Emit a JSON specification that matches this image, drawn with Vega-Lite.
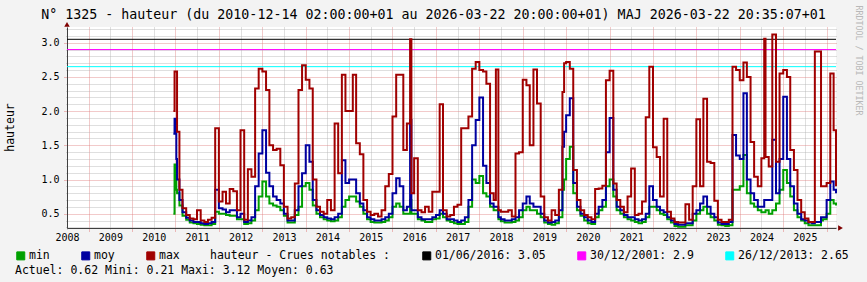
{
  "$schema": "https://vega.github.io/schema/vega-lite/v6.json",
  "width": 769,
  "height": 201,
  "autosize": {"type": "none"},
  "padding": {"left": 67, "top": 27, "right": 31, "bottom": 54},
  "background": "#f3f3f3",
  "config": {"view": {"fill": "#ffffff", "stroke": null}, "font": "DejaVu Sans Mono"},
  "title": {
    "text": "N° 1325 - hauteur (du 2010-12-14 02:00:00+01 au 2026-03-22 20:00:00+01) MAJ 2026-03-22 20:35:07+01",
    "font": "DejaVu Sans Mono", "fontSize": 13.3, "fontWeight": "normal", "color": "#000000",
    "anchor": "middle", "frame": "group", "dx": -18, "dy": 18, "offset": 2
  },
  "datasets": {
    "repere": [{"p": 1}],
    "crues": [
      {"crue": "01/06/2016: 3.05", "h": 3.05},
      {"crue": "30/12/2001: 2.9", "h": 2.9},
      {"crue": "26/12/2013: 2.65", "h": 2.65}
    ],
    "niveaux": [
      {"d":"2010-12-14","min":0.50,"moy":1.67,"max":2.00},
      {"d":"2010-12-24","min":1.22,"moy":1.89,"max":2.58},
      {"d":"2011-01-08","min":0.85,"moy":1.30,"max":2.58},
      {"d":"2011-01-14","min":0.80,"moy":1.00,"max":1.70},
      {"d":"2011-02-03","min":0.62,"moy":0.70,"max":0.85},
      {"d":"2011-03-01","min":0.47,"moy":0.52,"max":0.58},
      {"d":"2011-04-01","min":0.41,"moy":0.44,"max":0.48},
      {"d":"2011-05-01","min":0.37,"moy":0.40,"max":0.43},
      {"d":"2011-06-01","min":0.36,"moy":0.38,"max":0.42},
      {"d":"2011-07-01","min":0.35,"moy":0.38,"max":0.55},
      {"d":"2011-08-01","min":0.34,"moy":0.36,"max":0.40},
      {"d":"2011-09-01","min":0.33,"moy":0.35,"max":0.38},
      {"d":"2011-10-01","min":0.33,"moy":0.36,"max":0.41},
      {"d":"2011-11-01","min":0.35,"moy":0.38,"max":0.44},
      {"d":"2011-12-01","min":0.53,"moy":0.85,"max":1.75},
      {"d":"2012-01-01","min":0.50,"moy":0.58,"max":0.68},
      {"d":"2012-02-01","min":0.50,"moy":0.56,"max":0.82},
      {"d":"2012-03-01","min":0.48,"moy":0.52,"max":0.65},
      {"d":"2012-04-01","min":0.47,"moy":0.55,"max":0.86},
      {"d":"2012-05-01","min":0.47,"moy":0.55,"max":0.83},
      {"d":"2012-06-01","min":0.42,"moy":0.45,"max":0.55},
      {"d":"2012-07-01","min":0.42,"moy":0.50,"max":1.72},
      {"d":"2012-08-01","min":0.35,"moy":0.38,"max":0.41},
      {"d":"2012-09-01","min":0.36,"moy":0.40,"max":1.15},
      {"d":"2012-10-01","min":0.40,"moy":0.45,"max":1.04},
      {"d":"2012-11-01","min":0.55,"moy":0.90,"max":2.33},
      {"d":"2012-12-01","min":0.75,"moy":1.38,"max":2.62},
      {"d":"2013-01-01","min":0.97,"moy":1.72,"max":2.58},
      {"d":"2013-02-01","min":0.75,"moy":1.10,"max":2.31},
      {"d":"2013-03-01","min":0.65,"moy":0.90,"max":1.50},
      {"d":"2013-04-01","min":0.62,"moy":0.75,"max":1.43},
      {"d":"2013-05-01","min":0.60,"moy":0.70,"max":1.45},
      {"d":"2013-06-01","min":0.55,"moy":0.65,"max":1.21},
      {"d":"2013-07-01","min":0.47,"moy":0.50,"max":0.60},
      {"d":"2013-08-01","min":0.37,"moy":0.40,"max":0.43},
      {"d":"2013-09-01","min":0.37,"moy":0.40,"max":0.45},
      {"d":"2013-10-01","min":0.48,"moy":0.55,"max":0.94},
      {"d":"2013-11-01","min":0.60,"moy":0.90,"max":2.31},
      {"d":"2013-12-01","min":0.90,"moy":1.09,"max":2.67},
      {"d":"2014-01-01","min":0.95,"moy":1.50,"max":2.46},
      {"d":"2014-02-01","min":0.85,"moy":1.26,"max":2.33},
      {"d":"2014-03-01","min":0.62,"moy":0.70,"max":1.00},
      {"d":"2014-04-01","min":0.50,"moy":0.55,"max":0.60},
      {"d":"2014-05-01","min":0.45,"moy":0.48,"max":0.53},
      {"d":"2014-06-01","min":0.42,"moy":0.45,"max":0.50},
      {"d":"2014-07-01","min":0.40,"moy":0.43,"max":0.70},
      {"d":"2014-08-01","min":0.39,"moy":0.42,"max":0.55},
      {"d":"2014-09-01","min":0.40,"moy":0.45,"max":1.82},
      {"d":"2014-10-01","min":0.45,"moy":0.50,"max":1.09},
      {"d":"2014-11-01","min":0.60,"moy":1.28,"max":2.53},
      {"d":"2014-12-01","min":0.70,"moy":0.95,"max":2.00},
      {"d":"2015-01-01","min":0.75,"moy":1.00,"max":2.00},
      {"d":"2015-02-01","min":0.75,"moy":1.00,"max":2.53},
      {"d":"2015-03-01","min":0.68,"moy":0.80,"max":1.53},
      {"d":"2015-04-01","min":0.60,"moy":0.65,"max":1.37},
      {"d":"2015-05-01","min":0.50,"moy":0.55,"max":0.70},
      {"d":"2015-06-01","min":0.42,"moy":0.45,"max":0.53},
      {"d":"2015-07-01","min":0.38,"moy":0.42,"max":0.48},
      {"d":"2015-08-01","min":0.37,"moy":0.40,"max":0.50},
      {"d":"2015-09-01","min":0.37,"moy":0.40,"max":0.46},
      {"d":"2015-10-01","min":0.38,"moy":0.42,"max":0.55},
      {"d":"2015-11-01","min":0.40,"moy":0.45,"max":0.90},
      {"d":"2015-12-01","min":0.45,"moy":0.50,"max":1.08},
      {"d":"2016-01-01","min":0.60,"moy":0.80,"max":1.92},
      {"d":"2016-02-01","min":0.65,"moy":1.02,"max":2.53},
      {"d":"2016-03-01","min":0.60,"moy":0.90,"max":2.53},
      {"d":"2016-04-01","min":0.50,"moy":0.55,"max":1.43},
      {"d":"2016-05-01","min":0.50,"moy":0.60,"max":1.82},
      {"d":"2016-05-28","min":0.70,"moy":1.87,"max":3.05},
      {"d":"2016-06-08","min":0.50,"moy":0.55,"max":0.80},
      {"d":"2016-07-01","min":0.50,"moy":0.55,"max":1.31},
      {"d":"2016-08-01","min":0.42,"moy":0.45,"max":0.55},
      {"d":"2016-09-01","min":0.40,"moy":0.42,"max":0.52},
      {"d":"2016-10-01","min":0.38,"moy":0.42,"max":0.60},
      {"d":"2016-11-01","min":0.38,"moy":0.42,"max":0.53},
      {"d":"2016-12-01","min":0.42,"moy":0.45,"max":0.82},
      {"d":"2017-01-01","min":0.43,"moy":0.48,"max":0.82},
      {"d":"2017-02-01","min":0.50,"moy":0.55,"max":2.10},
      {"d":"2017-03-01","min":0.45,"moy":0.50,"max":0.55},
      {"d":"2017-04-01","min":0.40,"moy":0.42,"max":0.46},
      {"d":"2017-05-01","min":0.38,"moy":0.42,"max":0.48},
      {"d":"2017-06-01","min":0.36,"moy":0.40,"max":0.60},
      {"d":"2017-07-01","min":0.35,"moy":0.38,"max":0.63},
      {"d":"2017-08-01","min":0.35,"moy":0.40,"max":1.75},
      {"d":"2017-09-01","min":0.38,"moy":0.45,"max":1.75},
      {"d":"2017-10-01","min":0.60,"moy":0.70,"max":1.92},
      {"d":"2017-11-01","min":1.00,"moy":1.50,"max":2.62},
      {"d":"2017-12-01","min":0.95,"moy":1.87,"max":2.72},
      {"d":"2018-01-01","min":1.05,"moy":2.20,"max":2.60},
      {"d":"2018-02-01","min":0.80,"moy":1.20,"max":2.58},
      {"d":"2018-03-01","min":0.75,"moy":0.95,"max":2.40},
      {"d":"2018-04-01","min":0.60,"moy":0.65,"max":0.80},
      {"d":"2018-05-01","min":0.55,"moy":0.60,"max":0.70},
      {"d":"2018-05-20","min":0.55,"moy":0.60,"max":2.61},
      {"d":"2018-06-10","min":0.42,"moy":0.45,"max":0.55},
      {"d":"2018-07-01","min":0.39,"moy":0.42,"max":0.53},
      {"d":"2018-08-01","min":0.37,"moy":0.40,"max":0.53},
      {"d":"2018-09-01","min":0.37,"moy":0.40,"max":0.55},
      {"d":"2018-10-01","min":0.38,"moy":0.42,"max":0.46},
      {"d":"2018-11-01","min":0.40,"moy":0.45,"max":1.38},
      {"d":"2018-12-01","min":0.45,"moy":0.55,"max":1.40},
      {"d":"2019-01-01","min":0.55,"moy":0.65,"max":2.46},
      {"d":"2019-02-01","min":0.60,"moy":0.75,"max":2.38},
      {"d":"2019-03-01","min":0.55,"moy":0.65,"max":1.50},
      {"d":"2019-04-01","min":0.55,"moy":0.60,"max":2.61},
      {"d":"2019-05-01","min":0.50,"moy":0.60,"max":2.11},
      {"d":"2019-06-01","min":0.45,"moy":0.50,"max":0.75},
      {"d":"2019-07-01","min":0.37,"moy":0.40,"max":0.45},
      {"d":"2019-08-01","min":0.35,"moy":0.37,"max":0.40},
      {"d":"2019-09-01","min":0.34,"moy":0.38,"max":0.55},
      {"d":"2019-10-01","min":0.36,"moy":0.40,"max":0.48},
      {"d":"2019-11-01","min":0.45,"moy":0.55,"max":0.85},
      {"d":"2019-12-01","min":0.85,"moy":1.48,"max":2.28},
      {"d":"2019-12-15","min":1.00,"moy":1.70,"max":2.70},
      {"d":"2020-01-01","min":1.30,"moy":1.94,"max":2.72},
      {"d":"2020-02-01","min":1.48,"moy":2.19,"max":2.62},
      {"d":"2020-03-01","min":0.80,"moy":0.95,"max":1.14},
      {"d":"2020-04-01","min":0.55,"moy":0.60,"max":0.70},
      {"d":"2020-05-01","min":0.47,"moy":0.50,"max":0.55},
      {"d":"2020-06-01","min":0.40,"moy":0.45,"max":0.48},
      {"d":"2020-07-01","min":0.36,"moy":0.40,"max":0.45},
      {"d":"2020-08-01","min":0.35,"moy":0.38,"max":0.42},
      {"d":"2020-09-01","min":0.45,"moy":0.50,"max":0.86},
      {"d":"2020-10-01","min":0.55,"moy":0.60,"max":0.87},
      {"d":"2020-11-01","min":0.60,"moy":0.70,"max":0.91},
      {"d":"2020-12-01","min":0.90,"moy":1.40,"max":2.45},
      {"d":"2021-01-01","min":1.00,"moy":1.90,"max":2.59},
      {"d":"2021-02-01","min":0.75,"moy":0.85,"max":0.94},
      {"d":"2021-03-01","min":0.55,"moy":0.60,"max":0.70},
      {"d":"2021-04-01","min":0.50,"moy":0.55,"max":0.60},
      {"d":"2021-05-01","min":0.45,"moy":0.48,"max":0.52},
      {"d":"2021-06-01","min":0.42,"moy":0.45,"max":0.75},
      {"d":"2021-07-01","min":0.40,"moy":0.45,"max":1.16},
      {"d":"2021-08-01","min":0.38,"moy":0.42,"max":0.48},
      {"d":"2021-09-01","min":0.36,"moy":0.40,"max":0.50},
      {"d":"2021-10-01","min":0.38,"moy":0.42,"max":0.68},
      {"d":"2021-11-01","min":0.45,"moy":0.50,"max":1.91},
      {"d":"2021-12-01","min":0.60,"moy":0.90,"max":2.65},
      {"d":"2022-01-01","min":0.60,"moy":0.70,"max":1.47},
      {"d":"2022-02-01","min":0.55,"moy":0.60,"max":1.33},
      {"d":"2022-03-01","min":0.50,"moy":0.55,"max":0.75},
      {"d":"2022-04-01","min":0.48,"moy":0.52,"max":1.89},
      {"d":"2022-05-01","min":0.42,"moy":0.45,"max":0.53},
      {"d":"2022-06-01","min":0.37,"moy":0.40,"max":0.43},
      {"d":"2022-07-01","min":0.32,"moy":0.35,"max":0.38},
      {"d":"2022-08-01","min":0.31,"moy":0.34,"max":0.37},
      {"d":"2022-09-01","min":0.31,"moy":0.34,"max":0.37},
      {"d":"2022-10-01","min":0.33,"moy":0.36,"max":0.64},
      {"d":"2022-11-01","min":0.33,"moy":0.36,"max":0.41},
      {"d":"2022-12-01","min":0.40,"moy":0.50,"max":0.90},
      {"d":"2023-01-01","min":0.50,"moy":0.55,"max":1.88},
      {"d":"2023-02-01","min":0.55,"moy":0.65,"max":0.90},
      {"d":"2023-03-01","min":0.60,"moy":0.75,"max":2.18},
      {"d":"2023-04-01","min":0.50,"moy":0.60,"max":1.26},
      {"d":"2023-05-01","min":0.45,"moy":0.50,"max":1.24},
      {"d":"2023-06-01","min":0.40,"moy":0.45,"max":0.69},
      {"d":"2023-07-01","min":0.34,"moy":0.37,"max":0.41},
      {"d":"2023-08-01","min":0.33,"moy":0.35,"max":0.38},
      {"d":"2023-09-01","min":0.32,"moy":0.35,"max":0.38},
      {"d":"2023-10-01","min":0.33,"moy":0.38,"max":0.41},
      {"d":"2023-11-01","min":0.85,"moy":1.65,"max":2.65},
      {"d":"2023-12-01","min":0.85,"moy":1.35,"max":2.60},
      {"d":"2024-01-01","min":0.90,"moy":1.30,"max":2.45},
      {"d":"2024-02-01","min":1.36,"moy":2.26,"max":2.71},
      {"d":"2024-03-01","min":0.80,"moy":1.00,"max":2.50},
      {"d":"2024-04-01","min":0.65,"moy":0.80,"max":1.55},
      {"d":"2024-05-01","min":0.60,"moy":0.70,"max":1.04},
      {"d":"2024-06-01","min":0.55,"moy":0.60,"max":0.90},
      {"d":"2024-07-01","min":0.52,"moy":0.60,"max":1.31},
      {"d":"2024-07-25","min":0.52,"moy":0.70,"max":3.06},
      {"d":"2024-08-05","min":0.55,"moy":0.70,"max":1.33},
      {"d":"2024-09-01","min":0.50,"moy":0.70,"max":1.19},
      {"d":"2024-10-01","min":0.55,"moy":1.58,"max":3.12},
      {"d":"2024-11-01","min":0.65,"moy":0.80,"max":1.26},
      {"d":"2024-12-01","min":0.85,"moy":1.30,"max":2.55},
      {"d":"2025-01-01","min":1.14,"moy":2.21,"max":2.60},
      {"d":"2025-02-01","min":0.95,"moy":1.30,"max":2.50},
      {"d":"2025-03-01","min":0.75,"moy":0.90,"max":1.43},
      {"d":"2025-04-01","min":0.55,"moy":0.65,"max":1.14},
      {"d":"2025-05-01","min":0.45,"moy":0.50,"max":0.70},
      {"d":"2025-06-01","min":0.40,"moy":0.42,"max":0.52},
      {"d":"2025-07-01","min":0.36,"moy":0.40,"max":0.43},
      {"d":"2025-08-01","min":0.33,"moy":0.37,"max":0.38},
      {"d":"2025-09-01","min":0.33,"moy":0.36,"max":0.38},
      {"d":"2025-09-24","min":0.33,"moy":0.38,"max":2.87},
      {"d":"2025-11-15","min":0.40,"moy":0.45,"max":0.90},
      {"d":"2025-12-01","min":0.42,"moy":0.45,"max":0.90},
      {"d":"2026-01-01","min":0.50,"moy":0.70,"max":0.95},
      {"d":"2026-02-01","min":0.70,"moy":0.97,"max":2.55},
      {"d":"2026-03-01","min":0.65,"moy":0.85,"max":1.72},
      {"d":"2026-03-21","min":0.62,"moy":0.80,"max":0.90}
    ]
  },
  "resolve": {"axis": {"x": "independent", "y": "independent"}},
  "layer": [
    {
      "data": {"name": "repere"},
      "mark": {"type": "point", "shape": "triangle-up", "filled": true, "size": 30, "color": "#7f0000", "opacity": 1},
      "encoding": {
        "x": {
          "datum": {"year": 2008, "month": 7, "date": 2, "utc": true}, "type": "temporal",
          "scale": {"type": "utc", "domain": [{"year": 2008, "month": 7, "date": 2, "utc": true}, {"year": 2026, "month": 3, "date": 21, "utc": true}]},
          "axis": {
            "orient": "bottom", "title": null, "labels": false, "domain": false,
            "values": [
              {"year": 2009, "month": 1, "date": 1, "utc": true}, {"year": 2010, "month": 1, "date": 1, "utc": true},
              {"year": 2011, "month": 1, "date": 1, "utc": true}, {"year": 2012, "month": 1, "date": 1, "utc": true},
              {"year": 2013, "month": 1, "date": 1, "utc": true}, {"year": 2014, "month": 1, "date": 1, "utc": true},
              {"year": 2015, "month": 1, "date": 1, "utc": true}, {"year": 2016, "month": 1, "date": 1, "utc": true},
              {"year": 2017, "month": 1, "date": 1, "utc": true}, {"year": 2018, "month": 1, "date": 1, "utc": true},
              {"year": 2019, "month": 1, "date": 1, "utc": true}, {"year": 2020, "month": 1, "date": 1, "utc": true},
              {"year": 2021, "month": 1, "date": 1, "utc": true}, {"year": 2022, "month": 1, "date": 1, "utc": true},
              {"year": 2023, "month": 1, "date": 1, "utc": true}, {"year": 2024, "month": 1, "date": 1, "utc": true},
              {"year": 2025, "month": 1, "date": 1, "utc": true}, {"year": 2026, "month": 1, "date": 1, "utc": true}
            ],
            "ticks": true, "tickSize": 3, "tickColor": "#e07a7a", "tickDash": [1, 1], "tickWidth": 1,
            "grid": true, "gridColor": "#e07a7a", "gridDash": [1, 1], "gridWidth": 1, "gridOpacity": 0.8
          }
        },
        "y": {
          "datum": 3.27, "type": "quantitative",
          "scale": {"domain": [0.291, 3.23], "nice": false, "zero": false},
          "axis": {
            "orient": "left", "title": null, "labels": false, "domain": false,
            "values": [0.3, 0.4, 0.6, 0.7, 0.8, 0.9, 1.1, 1.2, 1.3, 1.4, 1.6, 1.7, 1.8, 1.9, 2.1, 2.2, 2.3, 2.4, 2.6, 2.7, 2.8, 2.9, 3.1, 3.2],
            "ticks": true, "tickSize": 2, "tickColor": "#b0b0b0", "tickDash": [1, 1],
            "grid": true, "gridColor": "#b0b0b0", "gridDash": [1, 1], "gridWidth": 1, "gridOpacity": 0.8
          }
        }
      }
    },
    {
      "data": {"name": "crues"},
      "mark": {"type": "rule", "strokeWidth": 1},
      "encoding": {
        "y": {"field": "h", "type": "quantitative", "axis": null},
        "color": {
          "field": "crue", "type": "nominal",
          "scale": {
            "domain": ["min", "moy", "max", "hauteur - Crues notables :", "01/06/2016: 3.05", "30/12/2001: 2.9", "26/12/2013: 2.65"],
            "range": ["#00a000", "#0000a0", "#a00000", "transparent", "#000000", "#ff00ff", "#00ffff"]
          },
          "legend": {
            "orient": "none", "legendX": -52, "legendY": 223, "direction": "horizontal",
            "columns": 7, "columnPadding": 29, "padding": 0,
            "title": "Actuel: 0.62   Mini: 0.21    Maxi: 3.12   Moyen: 0.63",
            "titleOrient": "bottom", "titleAnchor": "start", "titleAlign": "left", "titlePadding": 3,
            "titleFont": "DejaVu Sans Mono", "titleFontSize": 11.5, "titleFontWeight": "normal", "titleColor": "#000000", "titleLimit": 600,
            "symbolType": "square", "symbolSize": 64, "symbolStrokeWidth": 1, "symbolStrokeColor": "#000000",
            "labelFont": "DejaVu Sans Mono", "labelFontSize": 11.5, "labelColor": "#000000", "labelOffset": 6, "labelLimit": 400,
            "encode": {
              "symbols": {"update": {
                "fill": {"scale": "color", "field": "value"},
                "stroke": {"signal": "datum.value === 'hauteur - Crues notables :' ? 'transparent' : '#000000'"},
                "strokeWidth": {"value": 1},
                "opacity": {"value": 1}
              }},
              "labels": {"update": {
                "x": {"signal": "datum.value === 'hauteur - Crues notables :' ? 0 : 14"}
              }}
            }
          }
        }
      }
    },
    {
      "data": {"name": "niveaux"},
      "mark": {"type": "line", "interpolate": "step-after", "strokeWidth": 2},
      "encoding": {
        "x": {
          "field": "d", "type": "temporal",
          "axis": {
            "orient": "bottom", "title": null,
            "values": [
              {"year": 2008, "month": 7, "date": 2, "utc": true}, {"year": 2009, "month": 7, "date": 2, "utc": true},
              {"year": 2010, "month": 7, "date": 2, "utc": true}, {"year": 2011, "month": 7, "date": 2, "utc": true},
              {"year": 2012, "month": 7, "date": 2, "utc": true}, {"year": 2013, "month": 7, "date": 2, "utc": true},
              {"year": 2014, "month": 7, "date": 2, "utc": true}, {"year": 2015, "month": 7, "date": 2, "utc": true},
              {"year": 2016, "month": 7, "date": 2, "utc": true}, {"year": 2017, "month": 7, "date": 2, "utc": true},
              {"year": 2018, "month": 7, "date": 2, "utc": true}, {"year": 2019, "month": 7, "date": 2, "utc": true},
              {"year": 2020, "month": 7, "date": 2, "utc": true}, {"year": 2021, "month": 7, "date": 2, "utc": true},
              {"year": 2022, "month": 7, "date": 2, "utc": true}, {"year": 2023, "month": 7, "date": 2, "utc": true},
              {"year": 2024, "month": 7, "date": 2, "utc": true}, {"year": 2025, "month": 7, "date": 2, "utc": true}
            ],
            "labelExpr": "utcFormat(datum.value, '%Y')",
            "labelFont": "DejaVu Sans Mono", "labelFontSize": 10, "labelColor": "#000000", "labelPadding": 2,
            "labelFlush": false, "labelOverlap": false, "labelBound": false,
            "ticks": true, "tickSize": 2, "tickColor": "#b0b0b0", "tickDash": [1, 1],
            "grid": true, "gridColor": "#b0b0b0", "gridDash": [1, 1], "gridWidth": 1, "gridOpacity": 0.8,
            "domain": true, "domainColor": "#404040", "domainWidth": 1
          }
        },
        "y": {
          "field": "min", "type": "quantitative",
          "axis": {
            "orient": "left", "values": [0.5, 1, 1.5, 2, 2.5, 3], "format": ".1f",
            "labelFont": "DejaVu Sans Mono", "labelFontSize": 10, "labelColor": "#000000", "labelPadding": 5,
            "ticks": true, "tickSize": 3, "tickColor": "#e07a7a", "tickDash": [1, 1],
            "grid": true, "gridColor": "#e07a7a", "gridDash": [1, 1], "gridWidth": 1, "gridOpacity": 0.8,
            "domain": true, "domainColor": "#404040", "domainWidth": 1,
            "title": "hauteur", "titleFont": "DejaVu Sans Mono", "titleFontSize": 11.5, "titleFontWeight": "normal",
            "titleColor": "#000000", "titleAngle": 270, "titleX": -57, "titleY": 100, "titleAlign": "center", "titleBaseline": "middle"
          }
        },
        "color": {"datum": "min", "type": "nominal"}
      }
    },
    {
      "data": {"name": "niveaux"},
      "mark": {"type": "line", "interpolate": "step-after", "strokeWidth": 2},
      "encoding": {
        "x": {"field": "d", "type": "temporal", "axis": null},
        "y": {"field": "moy", "type": "quantitative", "axis": null},
        "color": {"datum": "moy", "type": "nominal"}
      }
    },
    {
      "data": {"name": "niveaux"},
      "mark": {"type": "line", "interpolate": "step-after", "strokeWidth": 2},
      "encoding": {
        "x": {"field": "d", "type": "temporal", "axis": null},
        "y": {"field": "max", "type": "quantitative", "axis": null},
        "color": {"datum": "max", "type": "nominal"}
      }
    },
    {
      "data": {"name": "repere"},
      "mark": {"type": "point", "shape": "triangle-right", "filled": true, "size": 30, "color": "#7f0000", "opacity": 1},
      "encoding": {
        "x": {"datum": {"year": 2026, "month": 4, "date": 28, "utc": true}, "type": "temporal", "axis": null},
        "y": {
          "datum": 0.291, "type": "quantitative",
          "axis": {
            "orient": "right", "labels": false, "ticks": false, "domain": false, "grid": false,
            "title": "RRDTOOL / TOBI OETIKER", "titleFont": "DejaVu Sans Mono", "titleFontSize": 8.3,
            "titleFontWeight": "normal", "titleColor": "#b8b8b8", "titleAngle": 90,
            "titleX": 21, "titleY": -22, "titleAlign": "left", "titleBaseline": "middle"
          }
        }
      }
    }
  ]
}
